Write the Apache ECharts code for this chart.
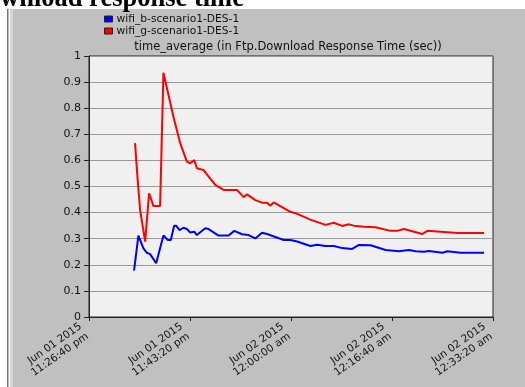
<!DOCTYPE html>
<html><head><meta charset="utf-8">
<script src="https://cdn.jsdelivr.net/npm/echarts@6/dist/echarts.min.js"></script>
<style>html,body{margin:0;padding:0;background:#fff}#c{width:525px;height:387px}</style>
</head><body><div id="c"></div>
<script>
// elapsed seconds since Jun 01 2015 11:26:40 pm
const redT = [456,479,506,556,595,638,704,737,836,903,969,1002,1042,1068,1134,1250,1332,1465,1531,1564,1647,1713,1763,1796,1828,1994,2061,2192,2341,2424,2507,2572,2622,2721,2837,2986,3052,3118,3301,3350,3482,3648,3912];
const redV = [0.666,0.54,0.41,0.289,0.474,0.425,0.425,0.936,0.767,0.666,0.595,0.589,0.601,0.57,0.563,0.506,0.487,0.487,0.459,0.47,0.448,0.438,0.438,0.426,0.439,0.403,0.395,0.373,0.353,0.361,0.349,0.355,0.35,0.346,0.344,0.33,0.33,0.337,0.318,0.33,0.327,0.322,0.322];
const blueT = [446,489,506,539,573,605,665,682,737,781,810,843,863,896,935,969,1002,1042,1068,1151,1184,1283,1382,1438,1515,1580,1647,1713,1763,1928,1994,2061,2192,2259,2341,2424,2507,2606,2672,2788,2937,3068,3168,3234,3317,3366,3499,3548,3680,3912];
const blueV = [0.178,0.312,0.308,0.263,0.246,0.241,0.206,0.206,0.312,0.295,0.295,0.35,0.35,0.333,0.342,0.337,0.324,0.327,0.314,0.34,0.337,0.312,0.312,0.33,0.317,0.314,0.301,0.323,0.318,0.295,0.295,0.289,0.272,0.277,0.272,0.272,0.264,0.261,0.276,0.275,0.257,0.252,0.257,0.252,0.25,0.253,0.246,0.252,0.246,0.246];
const seriesNames = ['wifi_b-scenario1-DES-1','wifi_g-scenario1-DES-1'];
const chartTitle = 'time_average (in Ftp.Download Response Time (sec))';
const pageTitle = 'wnload response time';
const yTickLabels = ['0','0.1','0.2','0.3','0.4','0.5','0.6','0.7','0.8','0.9','1'];

const startMs = Date.UTC(2015,5,1,23,26,40);
const months = ['Jan','Feb','Mar','Apr','May','Jun','Jul','Aug','Sep','Oct','Nov','Dec'];
function p2(n){return (n<10?'0':'')+n;}
function fmtTime(s){
  const d = new Date(startMs + s*1000);
  let h = d.getUTCHours(); const ap = h>=12?'pm':'am'; h = h%12; if(h===0) h=12;
  return months[d.getUTCMonth()]+' '+p2(d.getUTCDate())+' '+d.getUTCFullYear()+'\n'+p2(h)+':'+p2(d.getUTCMinutes())+':'+p2(d.getUTCSeconds())+' '+ap;
}
const chart = echarts.init(document.getElementById('c'), null, {renderer:'canvas'});
const FF = '"DejaVu Sans", Verdana, sans-serif';
chart.setOption({
  animation:false,
  backgroundColor:'#ffffff',
  graphic:[
    {type:'rect', shape:{x:10,y:9,width:520,height:380}, style:{fill:'#c0c0c0'}, z:-10},
    {type:'rect', shape:{x:10,y:9,width:3,height:380}, style:{fill:'#d6d6d6'}, z:-9},
    {type:'rect', shape:{x:7,y:9,width:1.5,height:380}, style:{fill:'#777'}, z:-9},
    {type:'text', x:0, y:-14, style:{text:pageTitle, font:'bold 26.5px "Liberation Serif"', fill:'#000'}, z:10},
    {type:'text', x:288, y:41, style:{text:chartTitle, font:'11.5px '+FF, fill:'#111', textAlign:'center'}}
  ],
  legend:{
    orient:'vertical', left:104, top:13, padding:0, itemWidth:8, itemHeight:6, itemGap:0, icon:'rect',
    data:seriesNames, textStyle:{fontFamily:FF, fontSize:10.7, lineHeight:12, color:'#111', padding:[0,0,0,-1]},
    itemStyle:{borderColor:'#222', borderWidth:1}
  },
  grid:{left:89, top:56, width:404, height:261, show:true, backgroundColor:'#f0f0f0', borderColor:'#222', borderWidth:1},
  xAxis:{
    type:'value', min:0, max:4000, interval:1000,
    axisLine:{lineStyle:{color:'#222'}}, axisTick:{length:4, lineStyle:{color:'#222'}},
    splitLine:{show:false},
    axisLabel:{rotate:35, margin:10, padding:[0,6,0,0], lineHeight:12, fontFamily:FF, fontSize:10.5, color:'#111', formatter:v=>fmtTime(v)}
  },
  yAxis:{
    type:'value', min:0, max:1, interval:0.1,
    axisLine:{show:true, lineStyle:{color:'#222'}}, axisTick:{show:true, length:5, lineStyle:{color:'#222'}},
    splitLine:{lineStyle:{color:'#999', width:1}},
    axisLabel:{margin:8, fontFamily:FF, fontSize:11, color:'#111', formatter:(v)=>yTickLabels[Math.round(v*10)]}
  },
  series:[
    {name:seriesNames[0], type:'line', showSymbol:false, data:blueT.map((t,i)=>[t,blueV[i]]), lineStyle:{color:'#0000ff', width:2}, itemStyle:{color:'#0000ff'}},
    {name:seriesNames[1], type:'line', showSymbol:false, data:redT.map((t,i)=>[t,redV[i]]), lineStyle:{color:'#ff0000', width:2}, itemStyle:{color:'#ff0000'}}
  ]
});
</script></body></html>
